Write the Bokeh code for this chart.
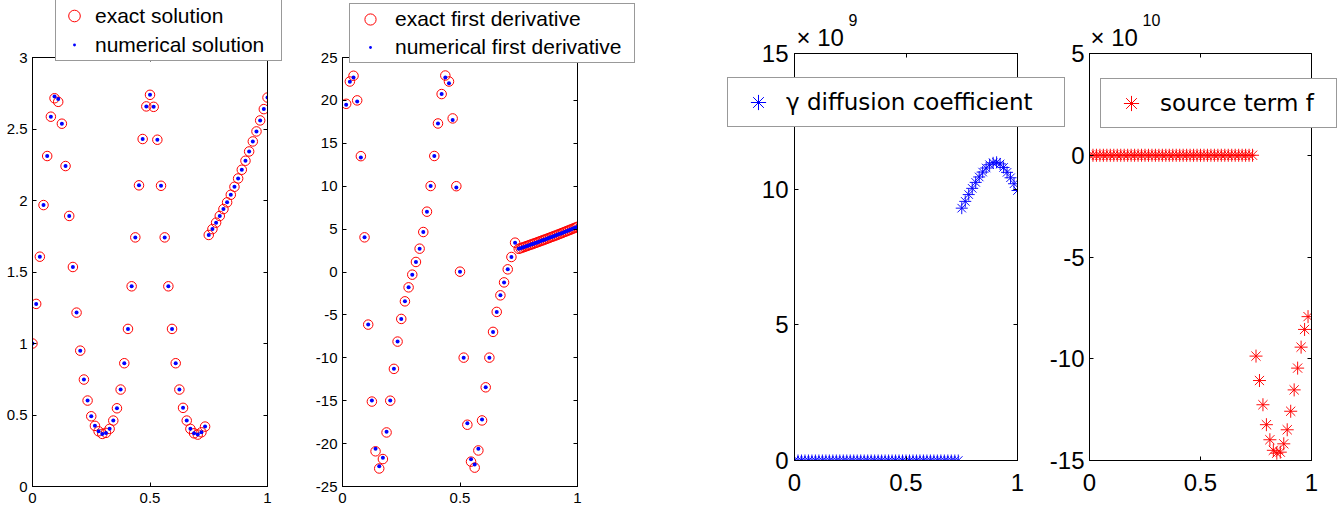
from bokeh.plotting import figure
from bokeh.models import Range1d, FixedTicker, LinearAxis, Legend, LegendItem, Label
from bokeh.embed import file_html
from bokeh.resources import INLINE

# ---------------- data ----------------
# uniform grid with step 1/64 on [0, 1]
x_sol = [i / 64 for i in range(65)]

u_exact = [1.000, 1.277, 1.607, 1.968, 2.311, 2.586, 2.715, 2.690, 2.537, 2.241,
           1.892, 1.535, 1.216, 0.950, 0.748, 0.601, 0.491, 0.424, 0.386, 0.368,
           0.375, 0.403, 0.461, 0.547, 0.678, 0.862, 1.102, 1.400, 1.742, 2.106,
           2.430, 2.658, 2.739, 2.655, 2.425, 2.103, 1.742, 1.400, 1.102, 0.862,
           0.678, 0.550, 0.461, 0.403, 0.372, 0.363, 0.379, 0.419, 1.759, 1.800,
           1.845, 1.892, 1.940, 1.987, 2.040, 2.096, 2.154, 2.215, 2.278, 2.343,
           2.413, 2.483, 2.560, 2.639, 2.720]
u_numerical = [1.000, 1.277, 1.607, 1.968, 2.311, 2.586, 2.727, 2.709, 2.537, 2.241,
               1.892, 1.535, 1.216, 0.950, 0.748, 0.601, 0.491, 0.424, 0.386, 0.368,
               0.375, 0.403, 0.461, 0.547, 0.678, 0.862, 1.102, 1.400, 1.742, 2.106,
               2.430, 2.658, 2.739, 2.655, 2.425, 2.103, 1.742, 1.400, 1.102, 0.862,
               0.678, 0.550, 0.461, 0.403, 0.372, 0.363, 0.379, 0.419, 1.759, 1.800,
               1.845, 1.892, 1.940, 1.987, 2.040, 2.096, 2.154, 2.215, 2.278, 2.343,
               2.413, 2.483, 2.560, 2.639, 2.720]

# derivative: coarse grid (step 1/64) on (0, 0.75), finer grid (step 1/128) on [0.75, 1]
x_der = [i / 64 for i in range(1, 48)] + [0.75 + k / 128 for k in range(33)]
du_exact = [19.6, 22.2, 22.87, 20.0, 13.5, 4.04, -6.13, -15.1, -20.9, -22.9,
            -21.8, -18.7, -15.0, -11.29, -8.11, -5.47, -3.42, -1.79, -0.31, 1.17,
            2.72, 4.66, 7.03, 10.02, 13.52, 17.31, 20.74, 22.9, 22.2, 17.9,
            10.0, 0.04, -9.98, -17.8, -22.1, -22.8, -20.8, -17.3, -13.44, -9.98,
            -6.98, -4.65, -2.72, -1.21, 0.31, 1.75, 3.42,
            2.70, 2.77, 2.85, 2.92, 3.00, 3.07, 3.15, 3.22, 3.30, 3.38,
            3.45, 3.53, 3.61, 3.69, 3.77, 3.85, 3.93, 4.01, 4.09, 4.17,
            4.25, 4.33, 4.42, 4.50, 4.58, 4.67, 4.75, 4.84, 4.92, 5.01,
            5.10, 5.18, 5.27]
du_numerical = [19.49, 22.17, 22.67, 19.88, 13.35, 4.04, -6.13, -14.98, -20.61, -22.64,
                -21.66, -18.63, -14.98, -11.29, -8.11, -5.47, -3.42, -1.79, -0.31, 1.17,
                2.72, 4.66, 7.03, 10.02, 13.52, 17.31, 20.74, 22.67, 22.01, 17.71,
                9.86, 0.04, -9.98, -17.63, -21.82, -22.44, -20.61, -17.2, -13.44, -9.98,
                -6.98, -4.65, -2.72, -1.21, 0.31, 1.75, 3.42,
                2.70, 2.77, 2.85, 2.92, 3.00, 3.07, 3.15, 3.22, 3.30, 3.38,
                3.45, 3.53, 3.61, 3.69, 3.77, 3.85, 3.93, 4.01, 4.09, 4.17,
                4.25, 4.33, 4.42, 4.50, 4.58, 4.67, 4.75, 4.84, 4.92, 5.01,
                5.10, 5.18, 5.27]

# diffusion coefficient gamma, in units of 1e9
x_gamma = [i / 64 for i in range(65)]
gamma_1e9 = [0, 0, 0, 0, 0, 0, 0, 0, 0, 0, 0, 0, 0, 0, 0, 0,
             0, 0, 0, 0, 0, 0, 0, 0, 0, 0, 0, 0, 0, 0, 0, 0,
             0, 0, 0, 0, 0, 0, 0, 0, 0, 0, 0, 0, 0, 0, 0, 0,
             9.30, 9.55, 9.80, 10.03, 10.25, 10.45, 10.63, 10.78, 10.90,
             10.97, 10.99, 10.93, 10.80, 10.62, 10.42, 10.20, 9.95]

# source term f, in units of 1e10
x_src = [i / 64 for i in range(64)]
src_1e10 = [0, 0, 0, 0, 0, 0, 0, 0, 0, 0, 0, 0, 0, 0, 0, 0,
            0, 0, 0, 0, 0, 0, 0, 0, 0, 0, 0, 0, 0, 0, 0, 0,
            0, 0, 0, 0, 0, 0, 0, 0, 0, 0, 0, 0, 0, 0, 0, 0,
            -9.87, -11.07, -12.26, -13.24, -13.98, -14.50, -14.64, -14.59,
            -14.18, -13.49, -12.58, -11.53, -10.46, -9.43, -8.56, -7.93]

x_ticks = [0, 0.5, 1]
x_tick_labels = ["0", "0.5", "1"]
y1_ticks = [0, 0.5, 1, 1.5, 2, 2.5, 3]
y1_tick_labels = ["0", "0.5", "1", "1.5", "2", "2.5", "3"]
y2_ticks = [-25, -20, -15, -10, -5, 0, 5, 10, 15, 20, 25]
y2_tick_labels = ["-25", "-20", "-15", "-10", "-5", "0", "5", "10", "15", "20", "25"]
y3_ticks = [0, 5, 10, 15]
y3_tick_labels = ["0", "5", "10", "15"]
y4_ticks = [-15, -10, -5, 0, 5]
y4_tick_labels = ["-15", "-10", "-5", "0", "5"]

RED = "#ff0000"
BLUE = "#0000ff"
H = 512


def make_fig(left_px, width, yr, left, right, top, bottom, xt, xl, yt, yl,
             font_size, standoff_x, standoff_y):
    p = figure(width=width, height=H, x_range=Range1d(0, 1), y_range=Range1d(*yr),
               output_backend="svg", toolbar_location=None, tools="",
               min_border_left=left, min_border_right=right,
               min_border_top=top, min_border_bottom=bottom)
    p.styles = {"position": "absolute", "left": f"{left_px}px", "top": "0px"}
    p.grid.visible = False
    p.outline_line_color = "black"
    p.outline_line_width = 1
    p.background_fill_color = "white"
    p.border_fill_color = "white"
    for ax, t, lab, so in ((p.xaxis[0], xt, xl, standoff_x), (p.yaxis[0], yt, yl, standoff_y)):
        ax.ticker = FixedTicker(ticks=t)
        ax.major_label_overrides = dict(zip(t, lab))
        ax.major_tick_in = 4
        ax.major_tick_out = 0
        ax.minor_tick_in = 0
        ax.minor_tick_out = 0
        ax.axis_line_color = "black"
        ax.major_tick_line_color = "black"
        ax.major_label_text_font = "Liberation Sans"
        ax.major_label_text_font_size = font_size
        ax.major_label_text_color = "black"
        ax.major_label_standoff = so
    # mirrored tick marks on the top and right sides (box on), without labels
    for t, place in ((xt, "above"), (yt, "right")):
        ax = LinearAxis(ticker=FixedTicker(ticks=t),
                        major_label_overrides={v: "" for v in t},
                        major_label_text_font_size="1px",
                        major_label_standoff=0, major_tick_in=4, major_tick_out=0,
                        minor_tick_in=0, minor_tick_out=0,
                        axis_line_color="black", major_tick_line_color="black")
        p.add_layout(ax, place)
    return p


# ---------- panel 1 ----------
p1 = make_fig(0, 300, (0, 3), 32, 33, 57, 26, x_ticks, x_tick_labels, y1_ticks, y1_tick_labels,
              "15px", 6, 5)
p1.scatter(x_sol, u_exact, marker="circle", size=9.5, line_color=RED,
           fill_color=None, line_width=1)
p1.scatter(x_sol, u_numerical, marker="dot", size=16, line_color=BLUE, fill_color=BLUE)

# ---------- panel 2 ----------
p2 = make_fig(300, 400, (-25, 25), 42, 123, 57, 26, x_ticks, x_tick_labels, y2_ticks, y2_tick_labels,
              "15px", 6, 5)
p2.scatter(x_der, du_exact, marker="circle", size=9.5, line_color=RED,
           fill_color=None, line_width=1)
p2.scatter(x_der, du_numerical, marker="dot", size=16, line_color=BLUE, fill_color=BLUE)

# ---------- panel 3 ----------
p3 = make_fig(700, 346, (0, 15), 94, 29, 53, 52, x_ticks, x_tick_labels, y3_ticks, y3_tick_labels,
              "24px", 13, 6)
p3.scatter(x_gamma, gamma_1e9, marker="asterisk", size=12, line_color=BLUE,
           line_alpha=0.95, line_width=1, fill_color=None)

# ---------- panel 4 ----------
p4 = make_fig(1046, 294, (-15, 5), 42, 29, 53, 52, x_ticks, x_tick_labels, y4_ticks, y4_tick_labels,
              "24px", 13, 5)
p4.scatter(x_src, src_1e10, marker="asterisk", size=13, line_color=RED,
           line_alpha=0.95, line_width=1, fill_color=None)

# ---------- overlay with legends and exponent labels (not clipped by the panel frames) ----------
# Its ranges lie far away from all data, so the legend-key renderers below draw
# nothing on the canvas themselves; they only supply the legend glyphs.
OW, OH = 1340, H
ov = figure(width=OW, height=OH, x_range=Range1d(100, 101), y_range=Range1d(100, 101),
            output_backend="svg", toolbar_location=None, tools="",
            x_axis_type=None, y_axis_type=None,
            min_border_left=0, min_border_right=0, min_border_top=0, min_border_bottom=0)
ov.styles = {"position": "absolute", "left": "0px", "top": "0px"}
ov.grid.visible = False
ov.outline_line_color = None
ov.background_fill_alpha = 0
ov.border_fill_alpha = 0

k1e = ov.scatter(x_sol[:1], u_exact[:1], marker="circle", line_color=RED, fill_color=None,
                 line_width=1)
k1n = ov.scatter(x_sol[:1], u_numerical[:1], marker="dot", line_color=BLUE, fill_color=BLUE)
k3 = ov.scatter(x_gamma[:1], gamma_1e9[:1], marker="asterisk", line_color=BLUE, line_width=1)
k4 = ov.scatter(x_src[:1], src_1e10[:1], marker="asterisk", line_color=RED, line_width=1)


def make_legend(items, loc, glyph_w, glyph_h, padding, standoff, label_w, font, fsize):
    return Legend(items=items, location=loc, orientation="vertical",
                  glyph_width=glyph_w, glyph_height=glyph_h, padding=padding, spacing=0,
                  margin=0, label_standoff=standoff, label_width=label_w, label_height=glyph_h,
                  label_text_font=font, label_text_font_size=fsize, label_text_color="black",
                  border_line_color="#333333", border_line_width=1,
                  background_fill_color="white", background_fill_alpha=1.0)


ov.add_layout(make_legend([LegendItem(label="exact solution", renderers=[k1e]),
                           LegendItem(label="numerical solution", renderers=[k1n])],
                          (55, OH - 61), 34, 29, 1, 4, 185, "Liberation Sans", "21px"))
ov.add_layout(make_legend([LegendItem(label="exact first derivative", renderers=[k1e]),
                           LegendItem(label="numerical first derivative", renderers=[k1n])],
                          (349, OH - 63), 38, 28, 1, 6, 238, "Liberation Sans", "21px"))
ov.add_layout(make_legend([LegendItem(label="\u03b3 diffusion coefficient", renderers=[k3])],
                          (727, OH - 127), 50, 38, 5, 3, 273, "DejaVu Sans", "23px"))
ov.add_layout(make_legend([LegendItem(label="source term f", renderers=[k4])],
                          (1100, OH - 128), 50, 38, 5, 4, 171, "DejaVu Sans", "23px"))

for lx, txt, sup in ((796, "\u00d7 10", "9"), (1090, "\u00d7 10", "10")):
    ov.add_layout(Label(x=lx, y=OH - 37, x_units="screen", y_units="screen", text=txt,
                        text_font="Liberation Sans", text_font_size="24px",
                        text_baseline="alphabetic", text_color="black"))
    ov.add_layout(Label(x=lx + 52, y=OH - 19, x_units="screen", y_units="screen", text=sup,
                        text_font="Liberation Sans", text_font_size="16px",
                        text_baseline="alphabetic", text_color="black"))

open("out.html", "w").write(file_html([p1, p2, p3, p4, ov], INLINE))
